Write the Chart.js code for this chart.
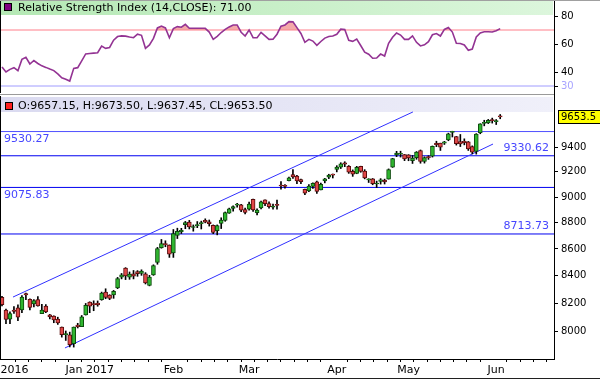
<!DOCTYPE html>
<html>
<head>
<meta charset="utf-8">
<script src="https://cdn.jsdelivr.net/npm/chart.js@4.4.0/dist/chart.umd.min.js"></script>
<style>
  html, body { margin: 0; padding: 0; background: #fff; }
  #wrap { position: relative; width: 600px; height: 381px; overflow: hidden; }
  #rsiChart { position: absolute; left: 0; top: 0; }
  #priceChart { position: absolute; left: 0; top: 93px; }
</style>
</head>
<body>
<div id="wrap">
  <canvas id="rsiChart" width="600" height="93"></canvas>
  <canvas id="priceChart" width="600" height="288"></canvas>
</div>
<script>
// Trading sessions shown on the chart (daily candles)
const sessions = [
  '2016-12-01','2016-12-02','2016-12-05','2016-12-06','2016-12-07','2016-12-08','2016-12-09',
  '2016-12-12','2016-12-13','2016-12-14','2016-12-15','2016-12-16',
  '2016-12-19','2016-12-20','2016-12-21','2016-12-22','2016-12-23',
  '2016-12-26','2016-12-27','2016-12-28','2016-12-29','2016-12-30',
  '2017-01-02','2017-01-03','2017-01-04','2017-01-05','2017-01-06',
  '2017-01-09','2017-01-10','2017-01-11','2017-01-12','2017-01-13',
  '2017-01-16','2017-01-17','2017-01-18','2017-01-19','2017-01-20',
  '2017-01-23','2017-01-24','2017-01-25','2017-01-27',
  '2017-01-30','2017-01-31','2017-02-01','2017-02-02','2017-02-03',
  '2017-02-06','2017-02-07','2017-02-08','2017-02-09','2017-02-10',
  '2017-02-13','2017-02-14','2017-02-15','2017-02-16','2017-02-17',
  '2017-02-20','2017-02-21','2017-02-22','2017-02-23',
  '2017-02-27','2017-02-28','2017-03-01','2017-03-02','2017-03-03',
  '2017-03-06','2017-03-07','2017-03-08','2017-03-09','2017-03-10',
  '2017-03-14','2017-03-15','2017-03-16','2017-03-17',
  '2017-03-20','2017-03-21','2017-03-22','2017-03-23','2017-03-24',
  '2017-03-27','2017-03-28','2017-03-29','2017-03-30','2017-03-31',
  '2017-04-03','2017-04-05','2017-04-06','2017-04-07',
  '2017-04-10','2017-04-11','2017-04-12','2017-04-13',
  '2017-04-17','2017-04-18','2017-04-19','2017-04-20','2017-04-21',
  '2017-04-24','2017-04-25','2017-04-26','2017-04-27','2017-04-28',
  '2017-05-02','2017-05-03','2017-05-04','2017-05-05',
  '2017-05-08','2017-05-09','2017-05-10','2017-05-11','2017-05-12',
  '2017-05-15','2017-05-16','2017-05-17','2017-05-18','2017-05-19',
  '2017-05-22','2017-05-23','2017-05-24','2017-05-25','2017-05-26',
  '2017-05-29','2017-05-30','2017-05-31','2017-06-01','2017-06-02'
];
// empty sessions kept on the right of the chart
const futureSessions = [
  '2017-06-05','2017-06-06','2017-06-07','2017-06-08','2017-06-09',
  '2017-06-12','2017-06-13','2017-06-14','2017-06-15','2017-06-16',
  '2017-06-19','2017-06-20','2017-06-21'
];

const opens = [
  8244, 8153, 8088, 8153, 8169, 8153, 8272, 8230, 8196, 8228, 8127, 8181, 8118, 8110, 8089, 8032, 7979, 7978, 7916, 8047, 8036, 8119,
  8210, 8197, 8203, 8227, 8282, 8260, 8262, 8313, 8390, 8457, 8391, 8416, 8432, 8418, 8415, 8330, 8407, 8499, 8610, 8635, 8629,
  8570, 8703, 8732, 8785, 8805, 8763, 8778, 8793, 8819, 8807, 8779, 8739, 8794, 8818, 8873, 8910, 8937, 8939, 8902,
  8904, 8982, 8877, 8915, 8977, 8949, 8920, 8936, 9091, 9086, 9129, 9178, 9167, 9139, 9060, 9048, 9083, 9121, 9057, 9127, 9157, 9180,
  9220, 9238, 9273, 9244, 9204, 9188, 9244, 9207, 9136, 9144, 9103, 9124, 9134, 9142, 9238, 9338, 9343, 9340,
  9339, 9290, 9315, 9374, 9285, 9322, 9328, 9432, 9434, 9433, 9461, 9523, 9488, 9447, 9450, 9446, 9405, 9367, 9520, 9599, 9603, 9630,
  9613, 9657.15
];
const highs = [
  8251, 8159, 8141, 8178, 8191, 8257, 8274, 8233, 8228, 8250, 8193, 8192, 8122, 8112, 8102, 8033, 8005, 7997, 8033, 8059, 8114, 8200,
  8212, 8219, 8218, 8282, 8306, 8263, 8294, 8389, 8418, 8461, 8429, 8440, 8439, 8445, 8424, 8404, 8482, 8612, 8672, 8662, 8631,
  8748, 8758, 8757, 8810, 8818, 8783, 8809, 8812, 8830, 8821, 8783, 8783, 8838, 8883, 8913, 8931, 8950, 8943, 8914,
  8961, 8983, 8907, 8968, 8978, 8963, 8944, 8975, 9122, 9099, 9158, 9218, 9172, 9143, 9063, 9099, 9113, 9127, 9110, 9148, 9181, 9183,
  9250, 9274, 9282, 9251, 9216, 9245, 9246, 9218, 9145, 9147, 9126, 9146, 9142, 9224, 9310, 9367, 9368, 9341,
  9340, 9333, 9365, 9378, 9322, 9331, 9411, 9450, 9434, 9449, 9517, 9533, 9490, 9506, 9470, 9448, 9412, 9513, 9596, 9625, 9632, 9643,
  9631, 9673.50
];
const lows = [
  8182, 8057, 8057, 8128, 8077, 8135, 8227, 8154, 8175, 8180, 8127, 8134, 8090, 8063, 8051, 7962, 7939, 7894, 7893, 8026, 8035, 8117,
  8134, 8148, 8180, 8223, 8234, 8227, 8237, 8307, 8378, 8373, 8375, 8378, 8397, 8404, 8341, 8327, 8404, 8486, 8606, 8617, 8537,
  8537, 8679, 8717, 8754, 8752, 8735, 8762, 8752, 8799, 8774, 8716, 8707, 8755, 8811, 8872, 8890, 8920, 8885, 8867,
  8898, 8887, 8860, 8906, 8933, 8912, 8904, 8904, 9061, 9069, 9128, 9147, 9105, 9106, 9019, 9043, 9067, 9029, 9057, 9112, 9146, 9151,
  9200, 9227, 9242, 9188, 9164, 9185, 9197, 9144, 9115, 9097, 9075, 9102, 9103, 9142, 9236, 9323, 9320, 9291,
  9290, 9268, 9302, 9270, 9271, 9301, 9320, 9405, 9374, 9423, 9454, 9485, 9418, 9406, 9420, 9374, 9346, 9344, 9512, 9578, 9597, 9601,
  9589, 9637.45
];
const closes = [
  8192, 8086, 8128, 8143, 8102, 8246, 8261, 8171, 8221, 8182, 8153, 8139, 8104, 8082, 8061, 7980, 7985, 7909, 8032, 8035, 8104, 8186,
  8180, 8192, 8190, 8274, 8244, 8236, 8288, 8381, 8407, 8400, 8413, 8398, 8417, 8435, 8349, 8392, 8476, 8603, 8641, 8633, 8561,
  8716, 8734, 8741, 8801, 8768, 8769, 8778, 8794, 8805, 8792, 8725, 8778, 8821, 8879, 8907, 8926, 8939, 8897, 8880,
  8945, 8899, 8897, 8963, 8947, 8924, 8927, 8935, 9087, 9084, 9153, 9160, 9127, 9121, 9031, 9086, 9108, 9045, 9101, 9144, 9174, 9174,
  9238, 9265, 9262, 9198, 9181, 9237, 9204, 9151, 9140, 9106, 9104, 9137, 9120, 9218, 9307, 9352, 9343, 9304,
  9313, 9312, 9360, 9285, 9315, 9316, 9407, 9422, 9401, 9445, 9512, 9526, 9430, 9428, 9439, 9386, 9360, 9510, 9595, 9604, 9625, 9621,
  9616, 9653.5
];
// RSI(14, close)
const rsi14 = [
  43.5, 40, 41.9, 43.1, 40.9, 49, 50.5, 45.7, 48.2, 46.1,
  44.4, 43.3, 42.1, 41, 38.6, 35.9, 34.8, 33.5, 42.6, 43.1,
  48, 52.9, 53.2, 53.5, 53.8, 58.5, 56.9, 57.5, 62.7, 65.3,
  65.8, 65.6, 65, 64.5, 67, 66.2, 56.9, 59.3, 64, 71.5,
  72.8, 71.5, 64.5, 71, 72.4, 72, 74, 71.2, 71.2, 71.2,
  71.2, 71.2, 68.5, 63.3, 65.5, 68.2, 70.4, 72.2, 73.6, 73.6,
  68.4, 65.7, 70, 64.5, 64.5, 68.3, 65.8, 63.3, 63.4, 67,
  72.7, 73.6, 76, 75.8, 71.7, 67.5, 61.2, 63.3, 62.1, 59,
  61.8, 64.2, 65.3, 65.7, 66.9, 70.6, 70.3, 62.7, 61.9, 63.5,
  58.9, 54.1, 52.7, 49.8, 50, 52.8, 51.4, 60.5, 64.8, 67.9,
  66.4, 63.3, 63.3, 65.8, 61.2, 58.6, 59.4, 61.7, 66.6, 67.5,
  65.7, 70.4, 71.8, 68.5, 60.5, 60.4, 59.3, 55.5, 56.4, 65,
  67.9, 68.7, 68.8, 68.6, 69.5, 71
];

// support / resistance levels and which side their label sits on
const levels = [9530.27, 9330.62, 9075.83, 8713.73];
const levelSides = ['left', 'right', 'left', 'right'];
const levelColors = ['#5050ff', '#0000f0', '#0000f0', '#0000f0'];

// price channel: [session index, price] at both ends of each line
const channelUpper = [[2.76, 8246], [103.1, 9695]];
const channelLower = [[15.8, 7887], [123.2, 9427]];

const priceTicks = [8000, 8200, 8400, 8600, 8800, 9000, 9200, 9400];
const rsiTicks = [30, 40, 60, 80];
const rsiLevels = [70, 30];
const MONTHS = ['Jan','Feb','Mar','Apr','May','Jun','Jul','Aug','Sep','Oct','Nov','Dec'];

Chart.defaults.font.family = 'DejaVu Sans';
Chart.defaults.font.size = 10;
Chart.defaults.color = '#000';

const allSessions = sessions.concat(futureSessions);
const xMin = -0.5;
const xMax = allSessions.length - 0.5;
const last = sessions.length - 1;

// month labels sit on the first session of each month
const monthTicks = {};
allSessions.forEach((d, i) => {
    const y = +d.slice(0, 4), m = +d.slice(5, 7) - 1;
    const prev = i > 0 ? +allSessions[i - 1].slice(5, 7) - 1 : -1;
    if (m !== prev && i < sessions.length) {
        monthTicks[i] = MONTHS[m] + (i === 0 || m === 0 ? ' ' + y : '');
    }
});
const xTickValues = [];
for (let v = 0; v < xMax; v += 10 / 3) {
    const near = Object.keys(monthTicks).some(k => Math.abs(k - v) < 1.2);
    if (!near) xTickValues.push(v);
}
Object.keys(monthTicks).forEach(k => xTickValues.push(+k));
xTickValues.sort((a, b) => a - b);

function noPad(s) {
    s.paddingLeft = 0; s.paddingRight = 0; s.paddingTop = 0; s.paddingBottom = 0;
}

// ---------- RSI panel ----------
const rsiDecor = {
    id: 'rsiDecor',
    beforeDatasetsDraw(chart) {
        const { ctx, chartArea: a } = chart;
        const g = ctx.createLinearGradient(a.left, 0, a.right, 0);
        g.addColorStop(0, '#b4e8b4');
        g.addColorStop(1, '#dcf6dc');
        ctx.save();
        ctx.fillStyle = g;
        ctx.fillRect(a.left + 1, a.top + 1, a.right - a.left - 2, 14);
        ctx.restore();
    },
    afterDraw(chart) {
        const { ctx, chartArea: a } = chart;
        ctx.save();
        ctx.fillStyle = '#800080';
        ctx.strokeStyle = '#000';
        ctx.fillRect(4.5, 3.5, 7, 7);
        ctx.strokeRect(4.5, 3.5, 7, 7);
        ctx.fillStyle = '#000';
        ctx.font = '11px "DejaVu Sans"';
        ctx.textBaseline = 'middle';
        ctx.fillText('Relative Strength Index (14,CLOSE): ' + rsi14[last].toFixed(2), 18, 8);
        ctx.strokeStyle = '#000';
        ctx.beginPath();
        ctx.moveTo(0.5, a.top); ctx.lineTo(0.5, a.bottom);
        ctx.stroke();
        ctx.strokeStyle = '#a0a0a0';
        ctx.beginPath();
        ctx.moveTo(0, 0.5); ctx.lineTo(600, 0.5);
        ctx.stroke();
        ctx.restore();
    }
};

new Chart(document.getElementById('rsiChart'), {
    type: 'line',
    data: {
        datasets: [
            {
                label: 'RSI',
                data: rsi14.map((v, i) => ({ x: i, y: v })),
                borderColor: '#933393',
                borderWidth: 1.6,
                pointRadius: 0,
                fill: { target: { value: 70 }, above: 'rgba(240,140,140,0.75)', below: 'rgba(0,0,0,0)' },
                order: 1
            },
            ...rsiLevels.map(v => ({
                label: 'level ' + v,
                data: [{ x: xMin, y: v }, { x: xMax, y: v }],
                borderColor: v === 70 ? '#ff7f8a' : '#a09cff',
                borderWidth: 1,
                pointRadius: 0,
                fill: false,
                order: 2
            }))
        ]
    },
    options: {
        responsive: false,
        animation: false,
        layout: { padding: 0 },
        plugins: { legend: { display: false }, tooltip: { enabled: false } },
        scales: {
            x: {
                type: 'linear', min: xMin, max: xMax, display: false, offset: false
            },
            y: {
                type: 'linear', position: 'right', min: 25, max: 91.4286,
                afterBuildTicks: s => { s.ticks = rsiTicks.map(v => ({ value: v })); },
                afterFit: s => { s.width = 46; noPad(s); },
                ticks: {
                    padding: 3,
                    color: c => (c.tick && c.tick.value === 30 ? '#a8a4ff' : '#000'),
                    font: { size: 10 }
                },
                grid: { drawOnChartArea: false, tickLength: 4, color: '#000' },
                border: { color: '#000' }
            }
        }
    },
    plugins: [rsiDecor]
});

// ---------- price panel ----------
const bodyColors = opens.map((o, i) => (closes[i] >= o ? '#2fb52f' : '#e04848'));
const edgeColors = opens.map((o, i) => (closes[i] >= o ? '#0c4a0c' : '#5a0c0c'));

const priceDecor = {
    id: 'priceDecor',
    beforeDatasetsDraw(chart) {
        const { ctx, chartArea: a } = chart;
        const g = ctx.createLinearGradient(a.left, 0, a.right, 0);
        g.addColorStop(0, '#dadaf0');
        g.addColorStop(1, '#f0f0fa');
        ctx.save();
        ctx.fillStyle = g;
        ctx.fillRect(a.left + 1, a.top + 1, a.right - a.left - 2, 15);
        ctx.restore();
    },
    afterDatasetsDraw(chart) {
        const { ctx, chartArea: a, scales } = chart;
        ctx.save();
        ctx.font = '11px "DejaVu Sans"';
        ctx.fillStyle = '#4646ff';
        ctx.textBaseline = 'middle';
        levels.forEach((lv, k) => {
            const y = scales.y.getPixelForValue(lv);
            if (levelSides[k] === 'left') {
                ctx.textAlign = 'left';
                ctx.fillText(lv.toFixed(2), 4, y + 8);
            } else {
                ctx.textAlign = 'right';
                ctx.fillText(lv.toFixed(2), a.right - 5, y - 8);
            }
        });
        // OHLC of the last session
        ctx.textAlign = 'left';
        ctx.fillStyle = '#ff2020';
        ctx.strokeStyle = '#000';
        ctx.fillRect(5.5, a.top + 6.5, 7, 7);
        ctx.strokeRect(5.5, a.top + 6.5, 7, 7);
        ctx.fillStyle = '#000';
        const f = v => v.toFixed(2);
        ctx.fillText('O:' + f(opens[last]) + ', H:' + f(highs[last]) + ', L:' + f(lows[last]) + ', CL:' + f(closes[last]), 18, a.top + 10.5);
        ctx.restore();
    },
    afterDraw(chart) {
        const { ctx, chartArea: a, scales } = chart;
        ctx.save();
        // last price marker on the axis
        const y = Math.round(scales.y.getPixelForValue(closes[last]));
        ctx.fillStyle = '#ffff00';
        ctx.strokeStyle = '#000';
        ctx.fillRect(558.5, y - 6.5, 44, 13);
        ctx.strokeRect(558.5, y - 6.5, 44, 13);
        ctx.fillStyle = '#000';
        ctx.font = '10px "DejaVu Sans"';
        ctx.textBaseline = 'middle';
        ctx.fillText(String(closes[last]), 561, y + 0.5);
        // frame
        ctx.strokeStyle = '#000';
        ctx.beginPath();
        ctx.moveTo(0.5, a.top); ctx.lineTo(0.5, a.bottom);
        ctx.moveTo(a.right + 0.5, 0); ctx.lineTo(a.right + 0.5, a.top);
        ctx.stroke();
        ctx.strokeStyle = '#9a9a9a';
        ctx.beginPath();
        ctx.moveTo(0, 1.5); ctx.lineTo(a.right, 1.5);
        ctx.stroke();
        ctx.strokeStyle = '#202020';
        ctx.beginPath();
        ctx.moveTo(0, 285.5); ctx.lineTo(600, 285.5);
        ctx.stroke();
        ctx.restore();
    }
};

const lineSet = (label, pts, color, order) => ({
    type: 'line',
    label: label,
    data: pts.map(p => ({ x: p[0], y: p[1] })),
    borderColor: color,
    borderWidth: 1,
    pointRadius: 0,
    fill: false,
    order: order
});

new Chart(document.getElementById('priceChart'), {
    type: 'bar',
    data: {
        datasets: [
            {
                label: 'body',
                data: sessions.map((d, i) => ({ x: i, y: [opens[i], closes[i]] })),
                backgroundColor: bodyColors,
                borderColor: edgeColors,
                borderWidth: 1,
                borderSkipped: false,
                barThickness: 4,
                minBarLength: 1,
                grouped: false,
                order: 1
            },
            {
                label: 'wick',
                data: sessions.map((d, i) => ({ x: i, y: [lows[i], highs[i]] })),
                backgroundColor: '#000',
                barThickness: 1,
                grouped: false,
                order: 2
            },
            lineSet('channel top', channelUpper, '#3030ff', 3),
            lineSet('channel bottom', channelLower, '#3030ff', 3),
            ...levels.map((lv, k) => lineSet('level ' + lv, [[xMin, lv], [xMax, lv]], levelColors[k], 4))
        ]
    },
    options: {
        responsive: false,
        animation: false,
        layout: { padding: { top: 3, left: 0, right: 0, bottom: 0 } },
        plugins: { legend: { display: false }, tooltip: { enabled: false } },
        scales: {
            x: {
                type: 'linear', min: xMin, max: xMax, offset: false,
                afterBuildTicks: s => { s.ticks = xTickValues.map(v => ({ value: v })); },
                afterFit: s => { s.height = 22; noPad(s); },
                ticks: {
                    autoSkip: false, maxRotation: 0, padding: 2,
                    font: { size: 11 },
                    callback: v => monthTicks[v] || ''
                },
                grid: {
                    drawOnChartArea: false, offset: false, tickLength: 3,
                    color: c => (c.tick && monthTicks[c.tick.value] ? 'rgba(0,0,0,0)' : '#000')
                },
                border: { color: '#000' }
            },
            y: {
                type: 'logarithmic', position: 'right', min: 7811.2, max: 9831.3,
                afterBuildTicks: s => { s.ticks = priceTicks.map(v => ({ value: v })); },
                afterFit: s => { s.width = 46; noPad(s); },
                ticks: { padding: 3, font: { size: 10 }, callback: v => String(v) },
                grid: { drawOnChartArea: false, tickLength: 4, color: '#000' },
                border: { color: '#000' }
            }
        }
    },
    plugins: [priceDecor]
});
</script>
</body>
</html>
